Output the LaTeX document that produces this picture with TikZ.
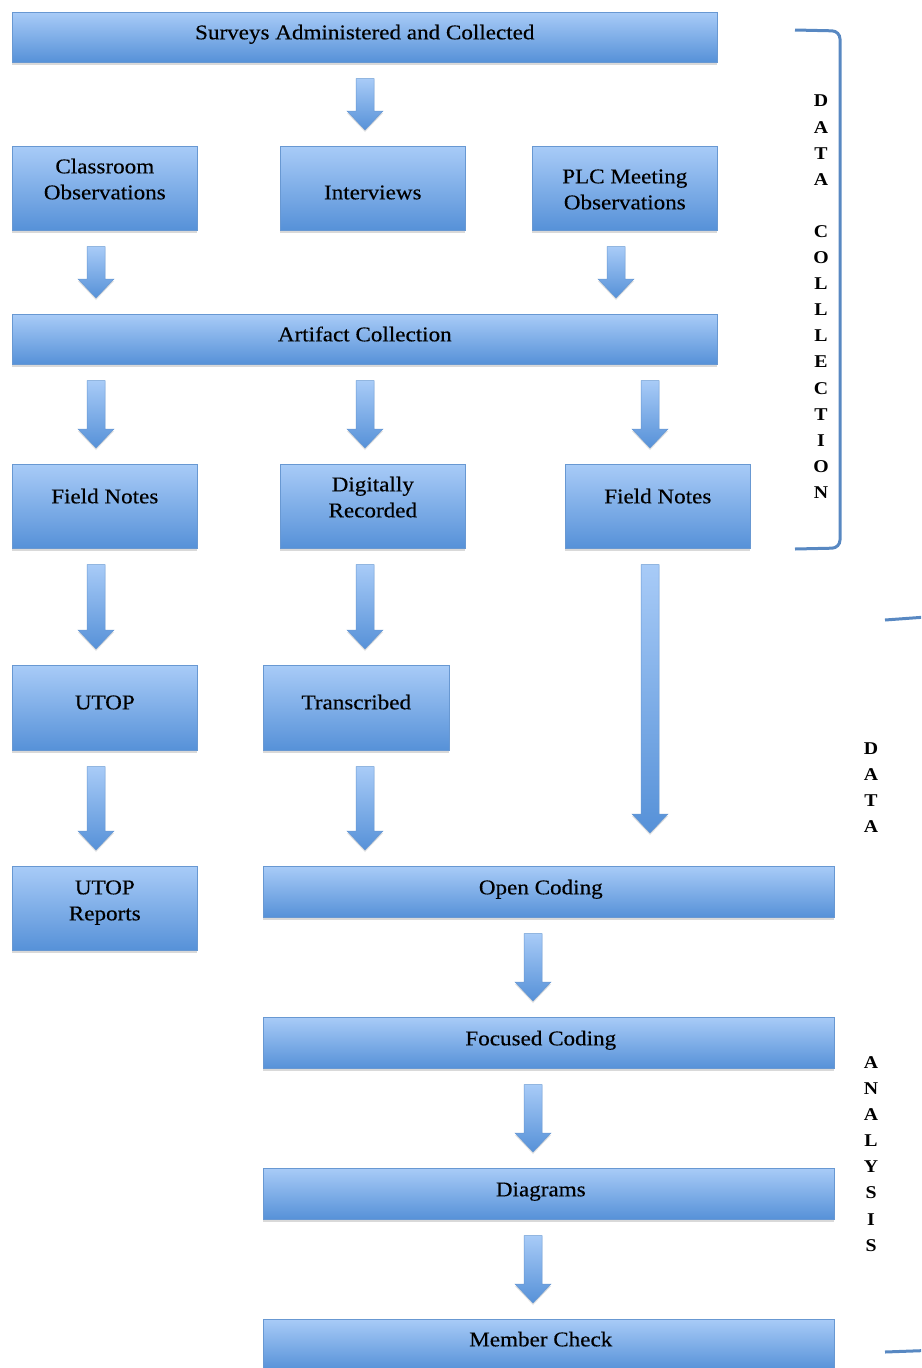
\documentclass[tikz,border=0pt]{standalone}
\usepackage{fontspec}
\setmainfont{Liberation Serif}[FakeStretch=1.1]
\newfontfamily\boxfont{Liberation Serif}[FakeStretch=1.1, FakeBold=0.3]
\usetikzlibrary{calc,shadows}

\definecolor{boxtop}{RGB}{168,203,247}
\definecolor{boxbot}{RGB}{86,145,216}
\definecolor{boxline}{RGB}{104,152,210}
\definecolor{bracketblue}{RGB}{88,136,194}

\tikzset{
  flowbox/.style={rectangle, anchor=north west, inner sep=0pt,
    draw=boxline, line width=0.6pt, top color=boxtop, bottom color=boxbot,
    drop shadow={shadow xshift=0pt, shadow yshift=-3pt, opacity=0.3},
    font=\boxfont\fontsize{21}{26}\selectfont, text=black},
  widebox/.style={flowbox, minimum width=705pt, minimum height=50pt},
  longbox/.style={flowbox, minimum width=571pt, minimum height=51pt},
  smallbox/.style={flowbox, minimum width=185pt, minimum height=84pt},
  arrowbody/.style={draw=boxline, line width=0.5pt, top color=boxtop, bottom color=boxbot,
    drop shadow={shadow xshift=0pt, shadow yshift=-2pt, opacity=0.25}},
  bracketline/.style={draw=bracketblue, line width=3pt, rounded corners=8pt},
  sidelabel/.style={inner sep=0pt, anchor=north, align=center,
    font=\bfseries\fontsize{18}{26.1}\selectfont}
}

% box caption: centred lines whose middle baseline sits #2 above the box centre;
% optional #1 pads the right side, moving the caption left by half of it
\newcommand\boxtext[3][0]{\raisebox{#2pt}[0pt][0pt]{\begin{tabular}{@{}c@{}}#3\end{tabular}}\hspace*{#1pt}}

% block arrow at horizontal position #2 from the bottom of node #3 to the top of node #4;
% optional #1 is the gap left above the target node
\newcommand\flowarrow[4][16]{%
  \path[arrowbody] let \p1=(#3.south), \p2=(#4.north) in
    (#2pt-9pt,\y1-16pt) -- (#2pt+9pt,\y1-16pt) -- (#2pt+9pt,\y2+#1pt+19pt)
    -- (#2pt+18pt,\y2+#1pt+19pt) -- (#2pt,\y2+#1pt) -- (#2pt-18pt,\y2+#1pt+19pt)
    -- (#2pt-9pt,\y2+#1pt+19pt) -- cycle;}

\begin{document}
\begin{tikzpicture}[x=1pt, y=-1pt]
\path[use as bounding box, clip] (0,0) rectangle (921,1368);

% boxes
\node[widebox] (surveys) at (12,12) {\boxtext{-2}{Surveys Administered and Collected}};
\node[smallbox] (classroom) at (12,146) {\boxtext{2}{Classroom\\Observations}};
\node[smallbox] (interviews) at (280,146) {\boxtext{-11}{Interviews}};
\node[smallbox] (plc) at (532,146) {\boxtext{-8}{PLC Meeting\\Observations}};
\node[widebox] (artifact) at (12,314) {\boxtext{-2}{Artifact Collection}};
\node[smallbox] (fnleft) at (12,464) {\boxtext{3}{Field Notes}};
\node[smallbox] (digital) at (280,464) {\boxtext{2}{Digitally\\Recorded}};
\node[smallbox] (fnright) at (565,464) {\boxtext{3}{Field Notes}};
\node[smallbox, minimum height=85pt] (utop) at (12,665) {\boxtext{-1.5}{UTOP}};
\node[smallbox, minimum width=186pt, minimum height=85pt] (transcribed) at (263,665) {\boxtext{-1.5}{Transcribed}};
\node[smallbox] (reports) at (12,866) {\boxtext{1}{UTOP\\Reports}};
\node[longbox] (opencoding) at (263,866) {\boxtext[16]{-2.5}{Open Coding}};
\node[longbox] (focused) at (263,1017) {\boxtext[16]{-2.5}{Focused Coding}};
\node[longbox] (diagrams) at (263,1168) {\boxtext[16]{-2.5}{Diagrams}};
\node[longbox] (member) at (263,1319) {\boxtext[16]{-1.5}{Member Check}};

% arrows
\flowarrow{365}{surveys}{interviews}
\flowarrow{96}{classroom}{artifact}
\flowarrow{616}{plc}{artifact}
\flowarrow{96}{artifact}{fnleft}
\flowarrow{365}{artifact}{digital}
\flowarrow{650}{artifact}{fnright}
\flowarrow{96}{fnleft}{utop}
\flowarrow{365}{digital}{transcribed}
\flowarrow[33]{650}{fnright}{opencoding}
\flowarrow{96}{utop}{reports}
\flowarrow{365}{transcribed}{opencoding}
\flowarrow{533}{opencoding}{focused}
\flowarrow{533}{focused}{diagrams}
\flowarrow{533}{diagrams}{member}

% phase brackets and their labels
\draw[bracketline] (795,30) -- (840,31) -- (840,548) -- (795,549);
\node[sidelabel] (collectlabel) at (821,95)
  {D\\A\\T\\A\\[26.1pt]C\\O\\L\\L\\L\\E\\C\\T\\I\\O\\N};

\draw[bracketline] (885,620) -- (940,616) -- (940,1350) -- (885,1352);
\node[sidelabel] (analysislabel) at (871,742)
  {D\\A\\T\\A\\[210pt]A\\N\\A\\L\\Y\\S\\I\\S};
\end{tikzpicture}
\end{document}
